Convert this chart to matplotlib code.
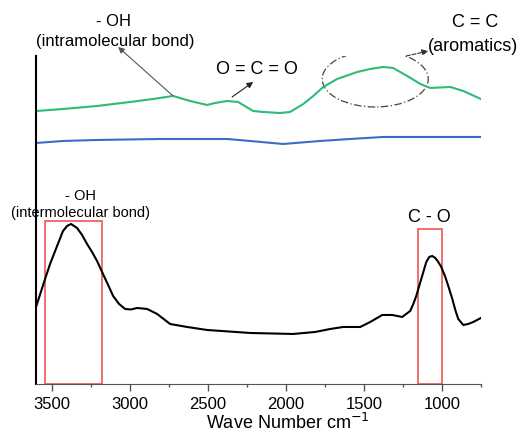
import numpy as np
import matplotlib.pyplot as plt
from matplotlib.patches import Rectangle, Ellipse
from matplotlib.ticker import MultipleLocator

plt.rcParams['font.family'] = ['Liberation Sans', 'DejaVu Sans']

# FTIR spectra (wavenumber in cm-1, intensity in arbitrary offset units)
wn_black = [3600, 3542, 3510, 3465, 3427, 3401, 3376, 3337, 3305, 3273,
            3241, 3209, 3171, 3138, 3106, 3068, 3029, 2991, 2953, 2888,
            2824, 2741, 2632, 2504, 2228, 1953, 1812, 1715, 1632, 1523,
            1459, 1382, 1318, 1254, 1203, 1183, 1164, 1151, 1132, 1113,
            1100, 1081, 1062, 1042, 1023, 1004, 978, 959, 933, 914,
            895, 863, 831, 799, 750]
int_black = [77, 105, 120, 138, 153, 158, 160, 156, 149, 140,
             132, 123, 110, 99, 88, 80, 75, 74.5, 76, 75,
             70, 60, 57, 54, 51, 50, 52, 55, 57, 57,
             62, 69, 69, 67, 73, 80, 88, 95, 105, 115,
             122, 127, 128, 126, 122, 117, 107, 98, 85, 74,
             65, 59, 60, 62, 66]

wn_green = [3594, 3427, 3209, 2997, 2850, 2722, 2613, 2504, 2453, 2376,
            2305, 2209, 2145, 2036, 1972, 1888, 1824, 1760, 1671, 1542,
            1459, 1376, 1312, 1222, 1138, 1074, 946, 863, 750]
int_green = [273, 275, 278, 282, 285, 288, 283, 279, 281, 283,
             282, 273, 272, 271, 272, 280, 288, 297, 305, 312,
             315, 317, 316, 308, 300, 296, 297, 293, 285]

wn_blue = [3600, 3427, 3209, 2805, 2376, 2228, 2017, 1780, 1587, 1376, 1138, 750]
int_blue = [241, 243, 244, 245, 245, 243, 240, 243, 245, 247, 247, 247]

# highlighted bands
oh_band = (3540, 3180)
co_band = (1150, 1000)

fig = plt.figure(figsize=(5.25, 4.35), dpi=100)
ax = fig.add_axes([0.0686, 0.115, 0.8474, 0.754])

ax.plot(wn_green, int_green, color='#2dbb78', lw=1.5)
ax.plot(wn_blue, int_blue, color='#3a6cc6', lw=1.5)
ax.plot(wn_black, int_black, color='black', lw=1.5)

ax.set_xlim(3600, 750)
ax.set_ylim(0, 328)

# red boxes around the bands
ax.add_patch(Rectangle((oh_band[1], 0), oh_band[0] - oh_band[1], 163,
                       fill=False, edgecolor='#f05555', lw=1.2))
ax.add_patch(Rectangle((co_band[1], 0), co_band[0] - co_band[1], 155,
                       fill=False, edgecolor='#f05555', lw=1.2))

# labels
ax.text(3318, 189, '- OH', ha='center', va='center', fontsize=10.5)
ax.text(3318, 172, '(intermolecular bond)', ha='center', va='center', fontsize=10.5)
ax.text(1081, 167, 'C - O', ha='center', va='center', fontsize=13)
ax.text(3106, 363, '- OH', ha='center', va='center', fontsize=12, clip_on=False)
ax.text(3094, 343, '(intramolecular bond)', ha='center', va='center', fontsize=12, clip_on=False)
ax.text(2183, 315, 'O = C = O', ha='center', va='center', fontsize=13)
ax.text(786, 362, 'C = C', ha='center', va='center', fontsize=13, clip_on=False)
ax.text(799, 338, '(aromatics)', ha='center', va='center', fontsize=13, clip_on=False)

ax.annotate('', xy=(3074, 337), xytext=(2722, 288), annotation_clip=False,
            arrowprops=dict(arrowstyle='-|>', color='#555555', lw=0.8,
                            mutation_scale=9, shrinkA=0, shrinkB=0))
ax.annotate('', xy=(2209, 302), xytext=(2344, 287), annotation_clip=False,
            arrowprops=dict(arrowstyle='-|>', color='#222222', lw=0.8,
                            mutation_scale=9, shrinkA=0, shrinkB=0))
ax.annotate('', xy=(1087, 333), xytext=(1228, 328), annotation_clip=False,
            arrowprops=dict(arrowstyle='-|>', color='#333333', lw=0.8, ls='--',
                            mutation_scale=9, shrinkA=0, shrinkB=0))
ax.add_patch(Ellipse((1427, 305), 679, 56, fill=False, edgecolor='#444444',
                     lw=0.9, ls=(0, (6, 2, 1, 2))))

# axes styling
ax.spines['top'].set_visible(False)
ax.spines['right'].set_visible(False)
ax.spines['left'].set_linewidth(1.5)
ax.spines['bottom'].set_color('#555555')
ax.set_yticks([])
ax.xaxis.set_major_locator(MultipleLocator(500))
ax.xaxis.set_minor_locator(MultipleLocator(250))
ax.tick_params(axis='x', which='major', direction='out', length=5, width=1,
               color='#555555', labelsize=12, pad=4)
ax.tick_params(axis='x', which='minor', direction='out', length=2.5, width=1,
               color='#555555')
ax.set_xlabel('Wave Number cm$^{-1}$', fontsize=13, labelpad=0)
ax.xaxis.set_label_coords(0.565, -0.085)

fig.savefig('out.png', dpi=100)
